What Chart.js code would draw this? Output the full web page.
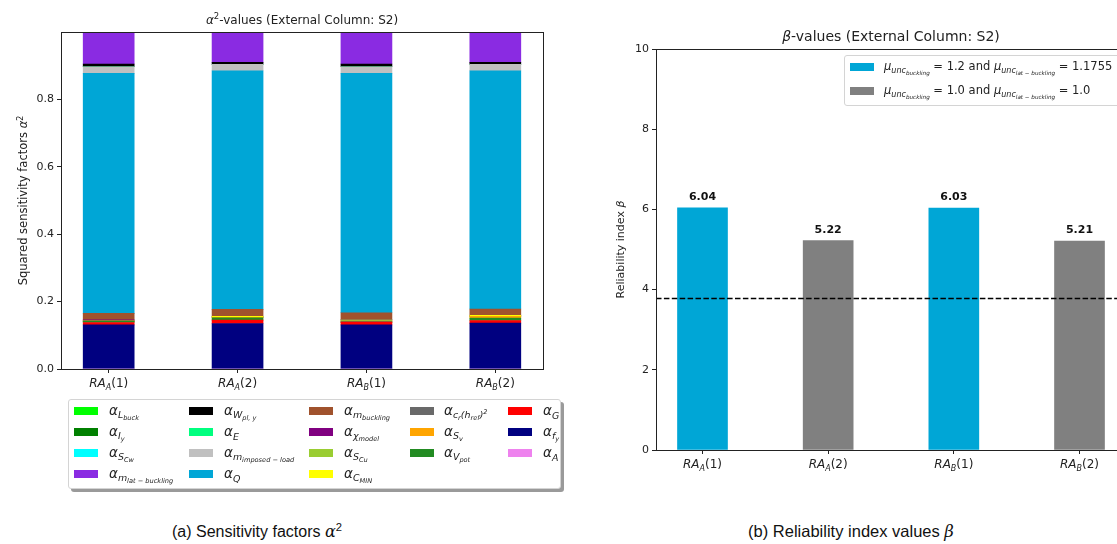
<!DOCTYPE html>
<html>
<head>
<meta charset="utf-8">
<title>Sensitivity factors and reliability index</title>
<script src="https://cdn.jsdelivr.net/npm/chart.js@4.4.1/dist/chart.umd.min.js"></script>
<style>
html, body { margin: 0; padding: 0; background: #fff; }
body { position: relative; width: 1117px; height: 544px; overflow: hidden; font-family: "DejaVu Sans", sans-serif; color: #222; }
canvas { position: absolute; }
#alphaChart { left: 0; top: 0; }
#betaChart { left: 590px; top: 0; }
.legend { position: absolute; background: #fff; border: 1px solid #d4d4d4; border-radius: 3px; }
#alphaLegend { left: 68px; top: 399px; width: 491px; height: 88px; box-shadow: 3px 3px 0 #9a9a9a; }
#betaLegend { left: 844px; top: 55px; width: 290px; height: 49px; background: rgba(255,255,255,0.85); }
.sw { position: absolute; width: 24px; height: 8px; }
.lbl { position: absolute; white-space: nowrap; line-height: 1; transform: translateY(-50%); }
#alphaLegend .lbl { font-size: 13.5px; font-style: italic; }
#betaLegend .lbl { font-size: 11.5px; }
sub, sup { line-height: 0; font-size: 70%; }
sub { vertical-align: -0.35em; }
sup { vertical-align: 0.5em; }
.caption { position: absolute; top: 522px; font-family: "Liberation Sans", Arial, sans-serif; font-size: 16px; color: #111; transform: translateX(-50%); white-space: nowrap; }
.caption i { font-family: "DejaVu Serif", "Liberation Serif", serif; }
</style>
</head>
<body>
<canvas id="alphaChart" width="560" height="400"></canvas>
<canvas id="betaChart" width="550" height="480"></canvas>
<div class="legend" id="alphaLegend"></div>
<div class="legend" id="betaLegend"></div>
<div class="caption" style="left:257px">(a) Sensitivity factors <i>α</i><sup>2</sup></div>
<div class="caption" style="left:851px; font-size:16.5px">(b) Reliability index values <i>β</i></div>

<script>
// cases along the x axis
const categories = ['RA_A(1)', 'RA_A(2)', 'RA_B(1)', 'RA_B(2)'];
const alphaTicks = [0, 0.2, 0.4, 0.6, 0.8];
const betaTicks = [0, 2, 4, 6, 8, 10];

// squared sensitivity factors per variable, one value per case
const aLbuck     = [0, 0, 0, 0];
const aIy        = [0, 0, 0, 0];
const aSCw       = [0, 0, 0, 0];
const aMlat      = [0.095, 0.090, 0.095, 0.090];
const aWply      = [0.008, 0.006, 0.008, 0.006];
const aE         = [0, 0, 0, 0];
const aMimposed  = [0.020, 0.019, 0.020, 0.019];
const aQ         = [0.712, 0.708, 0.710, 0.707];
const aMbuckling = [0.019, 0.021, 0.021, 0.019];
const aChiModel  = [0.004, 0, 0, 0];
const aSCu       = [0, 0, 0.004, 0];
const aCmin      = [0, 0.003, 0, 0.003];
const aCr        = [0, 0, 0.003, 0];
const aSv        = [0, 0.001, 0, 0.005];
const aVpot      = [0.004, 0.007, 0, 0.007];
const aG         = [0.007, 0.010, 0.008, 0.008];
const aFy        = [0.131, 0.135, 0.131, 0.136];
const aA         = [0, 0, 0, 0];

// reliability index per case and which uncertainty setting it belongs to
const betaValues = [6.04, 5.22, 6.03, 5.21];
const betaSetting = [0, 1, 0, 1];
const betaTarget = 3.8;
const betaSettingLabels = [
  '<i>μ</i><sub><i>unc</i><sub><i>buckling</i></sub></sub> = 1.2 and <i>μ</i><sub><i>unc</i><sub><i>lat − buckling</i></sub></sub> = 1.1755',
  '<i>μ</i><sub><i>unc</i><sub><i>buckling</i></sub></sub> = 1.0 and <i>μ</i><sub><i>unc</i><sub><i>lat − buckling</i></sub></sub> = 1.0'
];
const betaColours = ['#00A6D6', '#808080'];

// legend order (column by column); bars stack in the reverse order
const alphaSeries = [
  { values: aLbuck,     colour: '#00ff00', label: 'α<sub>L<sub>buck</sub></sub>' },
  { values: aIy,        colour: '#008000', label: 'α<sub>I<sub>y</sub></sub>' },
  { values: aSCw,       colour: '#00ffff', label: 'α<sub>S<sub>Cw</sub></sub>' },
  { values: aMlat,      colour: '#8a2be2', label: 'α<sub>m<sub>lat − buckling</sub></sub>' },
  { values: aWply,      colour: '#000000', label: 'α<sub>W<sub>pl, y</sub></sub>' },
  { values: aE,         colour: '#00ff7f', label: 'α<sub>E</sub>' },
  { values: aMimposed,  colour: '#c0c0c0', label: 'α<sub>m<sub>imposed − load</sub></sub>' },
  { values: aQ,         colour: '#00A6D6', label: 'α<sub>Q</sub>' },
  { values: aMbuckling, colour: '#a0522d', label: 'α<sub>m<sub>buckling</sub></sub>' },
  { values: aChiModel,  colour: '#800080', label: 'α<sub>χ<sub>model</sub></sub>' },
  { values: aSCu,       colour: '#9acd32', label: 'α<sub>S<sub>Cu</sub></sub>' },
  { values: aCmin,      colour: '#ffff00', label: 'α<sub>C<sub>MIN</sub></sub>' },
  { values: aCr,        colour: '#696969', label: 'α<sub>c<sub>r</sub>(h<sub>ref</sub>)<sup>2</sup></sub>' },
  { values: aSv,        colour: '#ffa500', label: 'α<sub>S<sub>v</sub></sub>' },
  { values: aVpot,      colour: '#228b22', label: 'α<sub>V<sub>pot</sub></sub>' },
  { values: aG,         colour: '#ff0000', label: 'α<sub>G</sub>' },
  { values: aFy,        colour: '#000080', label: 'α<sub>f<sub>y</sub></sub>' },
  { values: aA,         colour: '#ee82ee', label: 'α<sub>A</sub>' }
];

const INK = '#222';
const xIdx = categories.map((_, i) => i);

// draw a run of text pieces with their own fonts / vertical offsets
function drawRich(ctx, parts, x, y, align) {
  let total = 0;
  parts.forEach(p => { ctx.font = p.f; p.w = ctx.measureText(p.t).width; total += p.w; });
  let cx = align === 'left' ? x : x - total / 2;
  ctx.textAlign = 'left';
  ctx.textBaseline = 'alphabetic';
  parts.forEach(p => { ctx.font = p.f; ctx.fillText(p.t, cx, y + (p.dy || 0)); cx += p.w; });
}

function caseLabel(s, size) {
  const m = s.match(/^(\w+)_(\w)(.*)$/);
  return [
    { t: m[1], f: `italic ${size}px "DejaVu Sans"` },
    { t: m[2], f: `italic ${Math.round(size * 0.7)}px "DejaVu Sans"`, dy: 3 },
    { t: m[3], f: `${size}px "DejaVu Sans"` }
  ];
}

// axes box, title, rotated y label and case labels under the x axis
function decorations(title, ylabel, ylabelX, xlabelGap) {
  return {
    id: 'decor',
    afterDraw(chart) {
      const { ctx, chartArea: a, scales } = chart;
      ctx.save();
      ctx.strokeStyle = INK;
      ctx.lineWidth = 1;
      ctx.strokeRect(Math.round(a.left) + 0.5, Math.round(a.top) + 0.5,
                     Math.round(a.right - a.left), Math.round(a.bottom - a.top));
      ctx.fillStyle = INK;
      drawRich(ctx, title, (a.left + a.right) / 2, a.top - 8, 'center');
      categories.forEach((c, i) => {
        drawRich(ctx, caseLabel(c, 12), scales.x.getPixelForValue(i), a.bottom + xlabelGap, 'center');
      });
      ctx.translate(ylabelX, (a.top + a.bottom) / 2);
      ctx.rotate(-Math.PI / 2);
      drawRich(ctx, ylabel, 0, 0, 'center');
      ctx.restore();
    }
  };
}

function axisOpts(ticks, fmt, extent) {
  return {
    min: ticks.min, max: ticks.max,
    offset: false,
    afterBuildTicks: s => { s.ticks = ticks.values.map(v => ({ value: v })); },
    afterFit: s => { if (s.isHorizontal()) s.height = extent; else s.width = extent; },
    ticks: { callback: fmt, font: { family: 'DejaVu Sans', size: 11 }, color: INK, padding: 3 },
    grid: { drawOnChartArea: false, offset: false, tickLength: 4, color: INK, tickColor: INK },
    border: { display: false }
  };
}

// (a) stacked sensitivity factors
const stackOrder = alphaSeries.slice().reverse();
new Chart(document.getElementById('alphaChart'), {
  type: 'bar',
  data: {
    datasets: stackOrder.map(s => ({
      data: s.values.map((v, i) => ({ x: i, y: v })),
      backgroundColor: s.colour,
      borderWidth: 0,
      barThickness: 51
    }))
  },
  options: {
    responsive: false,
    animation: false,
    layout: { padding: { top: 32, right: 17, left: 0, bottom: 0 } },
    plugins: { legend: { display: false }, tooltip: { enabled: false } },
    scales: {
      x: Object.assign(axisOpts({ min: -0.37, max: 3.37, values: xIdx }, () => '', 31), { type: 'linear', stacked: true }),
      y: Object.assign(axisOpts({ min: 0, max: 1.0, values: alphaTicks }, v => v.toFixed(1), 61), { stacked: true })
    }
  },
  plugins: [decorations(
    [{ t: 'α', f: 'italic 12px "DejaVu Sans"' }, { t: '2', f: '8.5px "DejaVu Sans"', dy: -5 },
     { t: '-values (External Column: S2)', f: '12px "DejaVu Sans"' }],
    [{ t: 'Squared sensitivity factors ', f: '11.5px "DejaVu Sans"' }, { t: 'α', f: 'italic 11.5px "DejaVu Sans"' },
     { t: '2', f: '8px "DejaVu Sans"', dy: -4 }],
    27, 18)]
});

// (b) reliability index per case, with the target level dashed
const valueLabels = {
  id: 'valueLabels',
  afterDatasetsDraw(chart) {
    const { ctx, chartArea: a, scales } = chart;
    ctx.save();
    ctx.fillStyle = '#111';
    ctx.font = 'bold 11px "DejaVu Sans"';
    ctx.textAlign = 'center';
    ctx.textBaseline = 'alphabetic';
    betaValues.forEach((v, i) => {
      ctx.fillText(v.toFixed(2), scales.x.getPixelForValue(i), scales.y.getPixelForValue(v) - 8);
    });
    const yt = Math.round(scales.y.getPixelForValue(betaTarget)) + 0.5;
    ctx.strokeStyle = '#000';
    ctx.lineWidth = 1.5;
    ctx.setLineDash([5.5, 2.4]);
    ctx.beginPath();
    ctx.moveTo(a.left, yt);
    ctx.lineTo(a.right, yt);
    ctx.stroke();
    ctx.restore();
  }
};

new Chart(document.getElementById('betaChart'), {
  type: 'bar',
  data: {
    datasets: betaColours.map((c, k) => ({
      data: betaValues.map((v, i) => ({ x: i, y: v })).filter((_, i) => betaSetting[i] === k),
      backgroundColor: c,
      borderWidth: 0,
      barThickness: 50,
      grouped: false
    }))
  },
  options: {
    responsive: false,
    animation: false,
    layout: { padding: { top: 49, right: 14, left: 0, bottom: 0 } },
    plugins: { legend: { display: false }, tooltip: { enabled: false } },
    scales: {
      x: Object.assign(axisOpts({ min: -0.37, max: 3.37, values: xIdx }, () => '', 30), { type: 'linear' }),
      y: axisOpts({ min: 0, max: 10, values: betaTicks }, v => String(v), 66)
    }
  },
  plugins: [valueLabels, decorations(
    [{ t: 'β', f: 'italic 14px "DejaVu Sans"' }, { t: '-values (External Column: S2)', f: '14px "DejaVu Sans"' }],
    [{ t: 'Reliability index ', f: '11px "DejaVu Sans"' }, { t: 'β', f: 'italic 11px "DejaVu Sans"' }],
    34, 18)]
});

// legends: 18 entries laid out in 5 columns of 4,4,4,3,3
const alphaLegend = document.getElementById('alphaLegend');
const colSizes = [4, 4, 4, 3, 3];
const colSwatch = [5, 120, 240, 341, 439];
const colText = [40, 155, 275, 375, 474];
const rowY = [11, 32, 53, 74];
let html = '';
let n = 0;
colSizes.forEach((size, col) => {
  for (let row = 0; row < size; row++, n++) {
    const s = alphaSeries[n];
    html += `<div class="sw" style="left:${colSwatch[col]}px;top:${rowY[row] - 4}px;background:${s.colour}"></div>`;
    html += `<div class="lbl" style="left:${colText[col]}px;top:${rowY[row]}px">${s.label}</div>`;
  }
});
alphaLegend.innerHTML = html;

const betaLegend = document.getElementById('betaLegend');
html = '';
betaSettingLabels.forEach((lab, k) => {
  const y = 11 + k * 24;
  html += `<div class="sw" style="left:5px;top:${y - 4}px;background:${betaColours[k]}"></div>`;
  html += `<div class="lbl" style="left:39px;top:${y}px">${lab}</div>`;
});
betaLegend.innerHTML = html;
</script>
</body>
</html>
